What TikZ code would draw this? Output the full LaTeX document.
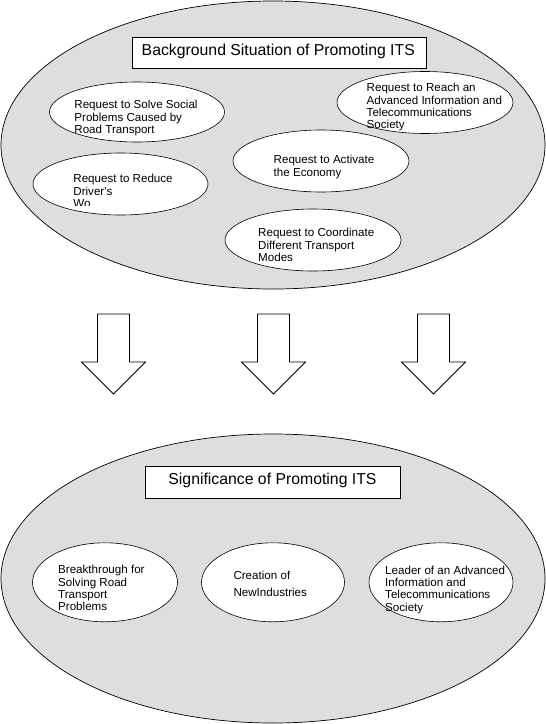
\documentclass[tikz,border=0pt]{standalone}
\usepackage{fontspec}
\setmainfont{Liberation Sans}[Ligatures=TeXOff]
\usetikzlibrary{shapes.geometric}
\definecolor{bgfill}{RGB}{222,222,222}
\begin{document}
\begin{tikzpicture}[x=1pt,y=-1pt,
  bigell/.style={ellipse, draw=black, line width=0.7pt, fill=bgfill, inner sep=0pt},
  smallell/.style={ellipse, draw=black, line width=0.6pt, fill=white, inner sep=0pt},
  titlebox/.style={draw=black, line width=0.9pt, fill=white, inner sep=0pt},
  titletext/.style={font=\fontsize{15.8}{18}\selectfont, inner sep=0pt, anchor=base},
  reqtext/.style={font=\fontsize{11.6}{12.2}\selectfont, align=left, anchor=north west, inner sep=0pt},
  blockarrow/.style={draw=black, line width=0.8pt, fill=white, line join=miter}]
\useasboundingbox (0,0) rectangle (546,724);

% ---------- top group ----------
\node[bigell, minimum width=544pt, minimum height=288pt] (topell) at (273,145) {};
\node[titlebox, minimum width=294pt, minimum height=31pt] (topbox) at (279,52.8) {};
\node[titletext] (toptitle) at (278.3,55.7) {Background Situation of Promoting ITS};

\node[smallell, minimum width=175pt, minimum height=60pt] (e1) at (137,112) {};
\node[smallell, minimum width=176pt, minimum height=62pt] (e2) at (425,102.5) {};
\node[smallell, minimum width=176pt, minimum height=62pt] (e3) at (321,161) {};
\node[smallell, minimum width=175pt, minimum height=62pt] (e4) at (120.5,184) {};
\node[smallell, minimum width=176pt, minimum height=62pt] (e5) at (313,240) {};

\node[reqtext] (t1) at (74.2,100.2) {Request to Solve Social\\Problems Caused by\\Road Transport};
\node[reqtext] (t2) at (366.5,83.2) {Request to Reach an\\Advanced Information and\\Telecommunications\\Society};
\node[reqtext] (t3) at (273.5,155.2) {Request to Activate\\the Economy};
\begin{scope}
  \clip (60,140) rectangle (215,205.5);
  \node[reqtext] (t4) at (73.2,174.2) {Request to Reduce\\Driver's\\Wo};
\end{scope}
\node[reqtext] (t5) at (258,228.2) {Request to Coordinate\\Different Transport\\Modes};

% ---------- arrows ----------
\foreach \cx in {113.5,273.5,433.5}{
  \draw[blockarrow] (\cx-16,314) -- (\cx+16,314) -- (\cx+16,362) -- (\cx+32,362)
     -- (\cx,394) -- (\cx-32,362) -- (\cx-16,362) -- cycle;
}

% ---------- bottom group ----------
\node[bigell, minimum width=544pt, minimum height=289pt] (botell) at (273,578.5) {};
\node[titlebox, minimum width=255.4pt, minimum height=31.6pt] (botbox) at (273,482.5) {};
\node[titletext] (bottitle) at (272.5,484.7) {Significance of Promoting ITS};

\node[smallell, minimum width=145pt, minimum height=79pt] (b1) at (105,582.3) {};
\node[smallell, minimum width=143pt, minimum height=79pt] (b2) at (273,582.3) {};
\node[smallell, minimum width=144pt, minimum height=79pt] (b3) at (441,582.3) {};

\node[reqtext] (s1) at (58,565.2) {Breakthrough for\\Solving Road\\Transport\\Problems};
\node[reqtext, font=\fontsize{11.6}{16.7}\selectfont] (s2) at (233.3,570.9) {Creation of\\NewIndustries};
\node[reqtext] (s3) at (385,565.9) {Leader of an Advanced\\Information and\\Telecommunications\\Society};
\end{tikzpicture}
\end{document}
